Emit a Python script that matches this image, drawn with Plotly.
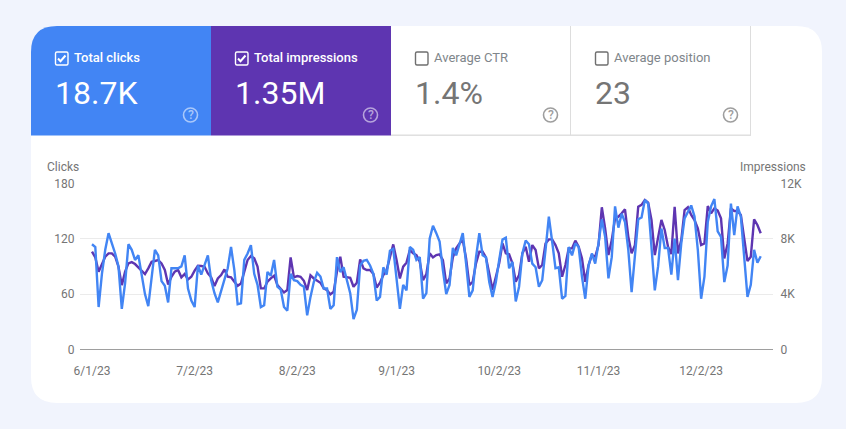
import pandas as pd
import plotly.graph_objects as go

WIDTH = 846
HEIGHT = 429

clicks = [114, 111, 46, 82, 108, 126, 115, 104, 90, 44, 72, 114, 108, 97, 102, 81, 60, 47, 79, 108,
          102, 74, 69, 51, 88, 88, 88, 90, 102, 66, 53, 46, 91, 81, 91, 102, 75, 61, 51, 64,
          77, 88, 111, 86, 49, 50, 97, 104, 113, 82, 70, 46, 48, 84, 80, 97, 68, 65, 46, 42,
          82, 75, 74, 70, 68, 37, 57, 73, 83, 79, 66, 66, 44, 48, 100, 84, 89, 75, 61, 33,
          43, 91, 96, 97, 91, 82, 53, 57, 89, 81, 107, 109, 75, 44, 70, 64, 111, 108, 97, 100,
          55, 61, 120, 134, 126, 117, 86, 60, 70, 110, 102, 115, 126, 93, 57, 64, 100, 126, 102, 100,
          73, 57, 73, 97, 119, 121, 88, 95, 52, 68, 104, 118, 114, 93, 89, 68, 75, 108, 144, 117,
          88, 89, 55, 58, 111, 102, 115, 111, 79, 55, 91, 104, 93, 115, 141, 122, 77, 100, 155, 132,
          147, 138, 108, 62, 104, 141, 143, 162, 158, 108, 64, 90, 131, 110, 110, 81, 120, 75, 115, 142,
          149, 156, 144, 108, 55, 79, 138, 155, 163, 128, 122, 73, 91, 158, 124, 155, 144, 100, 57, 70,
          108, 94, 101]

impressions = [7060, 6650, 5620, 6100, 6700, 6940, 6940, 6700, 5980, 4650, 5620, 6220, 6310, 6170, 5930, 5690, 5450, 5860, 6340, 6390,
               6460, 6220, 5740, 4700, 5250, 5620, 5740, 5210, 5450, 5060, 5250, 5690, 6050, 6030, 5980, 5490, 5210, 4580, 5130, 5370,
               5780, 5250, 5210, 4890, 4600, 4770, 5620, 6460, 6750, 6580, 5980, 4410, 4410, 4890, 5130, 5330, 4650, 4410, 4120, 4290,
               6650, 5210, 5300, 5250, 4960, 4290, 5350, 5130, 4960, 4820, 4410, 4290, 3980, 4170, 5620, 6700, 5250, 5210, 5180, 4530,
               4820, 6510, 5860, 5740, 5740, 5450, 4480, 4820, 5370, 5740, 6700, 7590, 6460, 5130, 5980, 6270, 7180, 6940, 6820, 6340,
               5010, 5450, 6940, 6650, 6820, 6870, 6460, 4770, 5130, 6650, 7300, 7660, 7900, 6580, 4650, 4890, 6220, 7060, 7060, 6650,
               5490, 4290, 5250, 6220, 7660, 6940, 6870, 6220, 4890, 5370, 6940, 7420, 6340, 7540, 7180, 5860, 6100, 7660, 7950, 7950,
               7540, 6940, 5250, 6100, 7300, 7300, 7860, 7420, 6580, 4890, 6100, 6820, 6700, 7540, 10270, 8750, 6820, 7900, 9470, 9590,
               9830, 10120, 8150, 6940, 7540, 10310, 10440, 10800, 10600, 9350, 6820, 8150, 9350, 8630, 7420, 6890, 10310, 6940, 7900, 10070,
               10270, 9710, 9350, 8750, 7540, 7660, 10360, 9830, 10190, 10030, 9470, 6580, 7660, 10190, 10000, 10000, 9710, 8030, 6390, 6700,
               9400, 8990, 8390]

dates = pd.date_range("2023-06-01", periods=len(clicks), freq="D")

tick_dates = ["2023-06-01", "2023-07-02", "2023-08-02", "2023-09-01", "2023-10-02", "2023-11-01", "2023-12-02"]
tick_labels = ["6/1/23", "7/2/23", "8/2/23", "9/1/23", "10/2/23", "11/1/23", "12/2/23"]
clicks_ticks = [0, 60, 120, 180]
impressions_ticks = [0, 4000, 8000, 12000]
impressions_labels = ["0", "4K", "8K", "12K"]

tiles = [
    {"name": "Total clicks", "value": "18.7K", "left": 31, "fill": "#4285f4", "on": True},
    {"name": "Total impressions", "value": "1.35M", "left": 211, "fill": "#5e35b1", "on": True},
    {"name": "Average CTR", "value": "1.4%", "left": 391, "fill": None, "on": False},
    {"name": "Average position", "value": "23", "left": 571, "fill": None, "on": False},
]

FONT = "Roboto, Arial, sans-serif"
GREY = "#757575"
PAGE_BG = "#f1f4fd"
BORDER = "#dddddd"


def px(x):
    return x / WIDTH


def py(y):
    return 1 - y / HEIGHT


def pt(x, y):
    return "{:.5f},{:.5f}".format(px(x), py(y))


def add_path(shapes, points, fill=None, line=None, width=1):
    shapes.append(dict(type="path", xref="paper", yref="paper", path=points, layer="below",
                       fillcolor=fill if fill else "rgba(0,0,0,0)",
                       line=dict(color=line if line else "rgba(0,0,0,0)", width=width)))


def add_rect(shapes, x0, y0, x1, y1, fill=None, line=None, width=1):
    add_path(shapes, "M{} L{} L{} L{} Z".format(pt(x0, y0), pt(x1, y0), pt(x1, y1), pt(x0, y1)),
             fill, line, width)


def rounded(x0, y0, x1, y1, r):
    return ("M{} L{} Q{} {} L{} Q{} {} L{} Q{} {} L{} Q{} {} Z".format(
        pt(x0 + r, y0), pt(x1 - r, y0), pt(x1, y0), pt(x1, y0 + r),
        pt(x1, y1 - r), pt(x1, y1), pt(x1 - r, y1),
        pt(x0 + r, y1), pt(x0, y1), pt(x0, y1 - r),
        pt(x0, y0 + r), pt(x0, y0), pt(x0 + r, y0)))


shapes = []
annotations = []


def label(x, y, text, size, color, anchor="left", weight=400):
    annotations.append(dict(x=px(x), y=py(y), xref="paper", yref="paper", text=text, showarrow=False,
                            xanchor=anchor, yanchor="middle", borderpad=0, borderwidth=0,
                            font=dict(family=FONT, size=size, color=color, weight=weight)))


# card
add_path(shapes, rounded(31, 26, 822, 403, 26), fill="#ffffff")

# tiles
for tile in tiles:
    left = tile["left"]
    right = left + 180
    if tile["fill"]:
        if left == 31:
            add_path(shapes, "M{} Q{} {} L{} L{} L{} Z".format(
                pt(31, 52), pt(31, 26), pt(57, 26), pt(right, 26), pt(right, 135.5), pt(31, 135.5)),
                fill=tile["fill"])
        else:
            add_rect(shapes, left, 26, right, 135.5, fill=tile["fill"])
    else:
        add_rect(shapes, left, 135.2, right, 135.2, line=BORDER)
        add_rect(shapes, right - 0.5, 26, right - 0.5, 135.2, line=BORDER)

    text_color = "#ffffff" if tile["on"] else GREY
    box = left + 24.5
    add_path(shapes, rounded(box, 52, box + 12.5, 65, 1.5), line="#ffffff" if tile["on"] else "#6f6f6f", width=1.4)
    if tile["on"]:
        add_path(shapes, "M{} L{} L{}".format(pt(box + 2.5, 58.5), pt(box + 5, 61.2), pt(box + 10, 55.5)),
                 line="#ffffff", width=2)
    label(left + 43.2, 57.7, tile["name"], 13, text_color if tile["on"] else "#80868b", weight=500 if tile["on"] else 400)
    label(left + 23.7, 93, tile["value"], 32, text_color)

    # help icon
    cx = left + 159.5
    icon = "rgba(255,255,255,0.55)" if tile["on"] else "#9e9e9e"
    shapes.append(dict(type="circle", xref="paper", yref="paper", layer="below",
                       x0=px(cx - 7), x1=px(cx + 7), y0=py(108), y1=py(122),
                       line=dict(color=icon, width=1.6), fillcolor="rgba(0,0,0,0)"))
    label(cx, 115, "?", 12, icon, anchor="center", weight=500)

label(47, 167, "Clicks", 12, GREY)
label(806, 167, "Impressions", 12, GREY, anchor="right")

fig = go.Figure()

# impressions go on the first axis so that the clicks line is painted above it
fig.add_trace(go.Scatter(x=dates, y=impressions, mode="lines", name="Impressions", yaxis="y",
                         line=dict(color="#5e35b1", width=2.4), hoverinfo="x+y"))
fig.add_trace(go.Scatter(x=dates, y=clicks, mode="lines", name="Clicks", yaxis="y2",
                         line=dict(color="#4285f4", width=2.4), hoverinfo="x+y"))

y_domain = [py(349.5), py(183.3)]

fig.update_layout(
    width=WIDTH,
    height=HEIGHT,
    autosize=False,
    margin=dict(l=0, r=0, t=0, b=0),
    paper_bgcolor=PAGE_BG,
    plot_bgcolor="rgba(0,0,0,0)",
    showlegend=False,
    font=dict(family=FONT, size=12, color=GREY),
    shapes=shapes,
    annotations=annotations,
    xaxis=dict(domain=[px(80), px(773)], anchor="y", type="date", automargin=False,
               range=["2023-05-28 09:00", "2023-12-23 17:00"],
               tickmode="array", tickvals=tick_dates, ticktext=tick_labels,
               showgrid=False, zeroline=False, showline=False,
               ticks="outside", ticklen=10, tickcolor="rgba(0,0,0,0)",
               tickfont=dict(family=FONT, size=12, color=GREY)),
    yaxis=dict(domain=y_domain, side="right", anchor="x", range=[0, 12000], automargin=False,
               tickmode="array", tickvals=impressions_ticks, ticktext=impressions_labels,
               showgrid=True, gridcolor="#ebebeb", gridwidth=1,
               zeroline=True, zerolinecolor="#9e9e9e", zerolinewidth=1,
               ticks="outside", ticklen=4, tickcolor="rgba(0,0,0,0)",
               tickfont=dict(family=FONT, size=12, color=GREY)),
    yaxis2=dict(domain=y_domain, side="left", overlaying="y", anchor="x", range=[0, 180], automargin=False,
                tickmode="array", tickvals=clicks_ticks,
                showgrid=False, zeroline=False,
                ticks="outside", ticklen=2, tickcolor="rgba(0,0,0,0)",
                tickfont=dict(family=FONT, size=12, color=GREY)),
)

fig.write_html("out.html", config={"displayModeBar": False},
               post_script="document.body.style.margin='0';document.body.style.overflow='hidden';")
